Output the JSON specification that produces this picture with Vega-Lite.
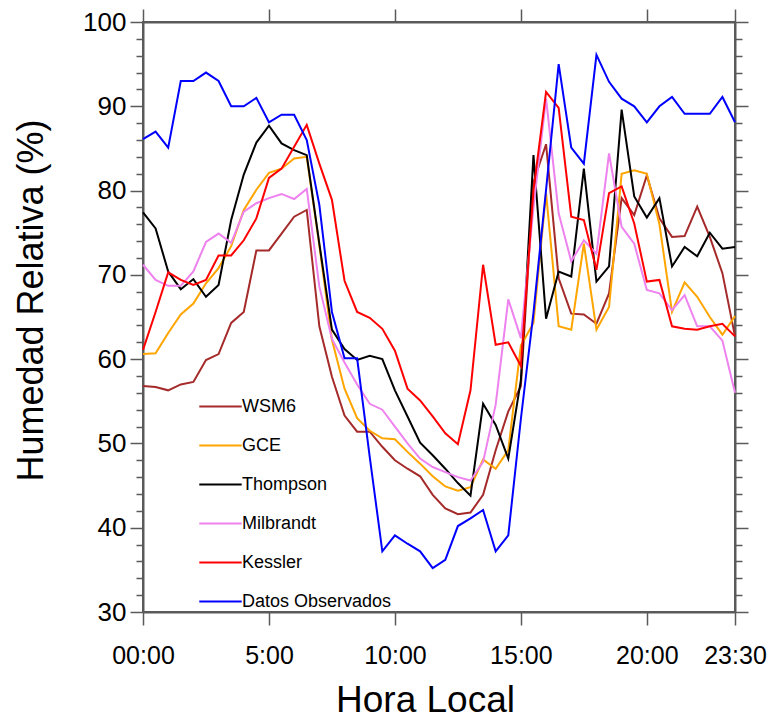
{
  "$schema": "https://vega.github.io/schema/vega-lite/v6.json",
  "width": 592,
  "height": 590,
  "autosize": {"type": "none"},
  "padding": {"left": 143, "top": 22, "right": 35, "bottom": 107},
  "background": "white",
  "config": {
    "view": {"stroke": "#5a5a5a", "strokeWidth": 2},
    "font": "Liberation Sans"
  },
  "data": {
    "values": [
      {"h": 0, "WSM6": 56.8, "GCE": 60.6, "Thompson": 77.4, "Milbrandt": 71.2, "Kessler": 61.1, "Datos Observados": 86.1},
      {"h": 0.5, "WSM6": 56.7, "GCE": 60.7, "Thompson": 75.5, "Milbrandt": 69.4, "Kessler": 65.6, "Datos Observados": 87.0},
      {"h": 1, "WSM6": 56.3, "GCE": 63.1, "Thompson": 70.4, "Milbrandt": 68.7, "Kessler": 70.3, "Datos Observados": 85.1},
      {"h": 1.5, "WSM6": 57.0, "GCE": 65.3, "Thompson": 68.3, "Milbrandt": 68.7, "Kessler": 69.4, "Datos Observados": 93.0},
      {"h": 2, "WSM6": 57.3, "GCE": 66.6, "Thompson": 69.5, "Milbrandt": 70.4, "Kessler": 68.8, "Datos Observados": 93.0},
      {"h": 2.5, "WSM6": 59.9, "GCE": 69.0, "Thompson": 67.4, "Milbrandt": 73.9, "Kessler": 69.4, "Datos Observados": 94.0},
      {"h": 3, "WSM6": 60.6, "GCE": 70.8, "Thompson": 68.8, "Milbrandt": 74.9, "Kessler": 72.3, "Datos Observados": 93.0},
      {"h": 3.5, "WSM6": 64.3, "GCE": 73.4, "Thompson": 76.5, "Milbrandt": 73.8, "Kessler": 72.3, "Datos Observados": 90.0},
      {"h": 4, "WSM6": 65.6, "GCE": 77.7, "Thompson": 81.9, "Milbrandt": 77.5, "Kessler": 74.1, "Datos Observados": 90.0},
      {"h": 4.5, "WSM6": 72.9, "GCE": 80.1, "Thompson": 85.7, "Milbrandt": 78.5, "Kessler": 76.7, "Datos Observados": 91.0},
      {"h": 5, "WSM6": 72.9, "GCE": 82.1, "Thompson": 87.7, "Milbrandt": 79.1, "Kessler": 81.5, "Datos Observados": 88.1},
      {"h": 5.5, "WSM6": 74.9, "GCE": 82.6, "Thompson": 85.6, "Milbrandt": 79.6, "Kessler": 82.6, "Datos Observados": 89.0},
      {"h": 6, "WSM6": 76.9, "GCE": 83.8, "Thompson": 84.8, "Milbrandt": 79.0, "Kessler": 85.2, "Datos Observados": 89.0},
      {"h": 6.5, "WSM6": 77.7, "GCE": 84.0, "Thompson": 84.2, "Milbrandt": 80.2, "Kessler": 87.8, "Datos Observados": 86.0},
      {"h": 7, "WSM6": 63.9, "GCE": 73.5, "Thompson": 73.7, "Milbrandt": 68.6, "Kessler": 83.2, "Datos Observados": 78.3},
      {"h": 7.5, "WSM6": 57.9, "GCE": 62.3, "Thompson": 63.5, "Milbrandt": 62.4, "Kessler": 78.9, "Datos Observados": 65.6},
      {"h": 8, "WSM6": 53.3, "GCE": 56.5, "Thompson": 61.2, "Milbrandt": 59.6, "Kessler": 69.3, "Datos Observados": 60.1},
      {"h": 8.5, "WSM6": 51.4, "GCE": 53.0, "Thompson": 59.9, "Milbrandt": 57.0, "Kessler": 65.6, "Datos Observados": 60.1},
      {"h": 9, "WSM6": 51.4, "GCE": 51.5, "Thompson": 60.4, "Milbrandt": 54.7, "Kessler": 64.9, "Datos Observados": 48.4},
      {"h": 9.5, "WSM6": 49.6, "GCE": 50.6, "Thompson": 60.0, "Milbrandt": 54.0, "Kessler": 63.6, "Datos Observados": 37.2},
      {"h": 10, "WSM6": 48.0, "GCE": 50.5, "Thompson": 56.3, "Milbrandt": 52.0, "Kessler": 61.0, "Datos Observados": 39.1},
      {"h": 10.5, "WSM6": 47.0, "GCE": 49.0, "Thompson": 53.2, "Milbrandt": 50.0, "Kessler": 56.5, "Datos Observados": 38.1},
      {"h": 11, "WSM6": 46.1, "GCE": 47.6, "Thompson": 50.1, "Milbrandt": 48.2, "Kessler": 55.1, "Datos Observados": 37.2},
      {"h": 11.5, "WSM6": 43.9, "GCE": 46.1, "Thompson": 48.6, "Milbrandt": 47.2, "Kessler": 53.2, "Datos Observados": 35.2},
      {"h": 12, "WSM6": 42.3, "GCE": 44.9, "Thompson": 47.0, "Milbrandt": 46.6, "Kessler": 51.2, "Datos Observados": 36.2},
      {"h": 12.5, "WSM6": 41.6, "GCE": 44.4, "Thompson": 45.3, "Milbrandt": 46.0, "Kessler": 49.9, "Datos Observados": 40.2},
      {"h": 13, "WSM6": 41.8, "GCE": 44.8, "Thompson": 43.8, "Milbrandt": 45.6, "Kessler": 56.3, "Datos Observados": 41.1},
      {"h": 13.5, "WSM6": 43.9, "GCE": 48.1, "Thompson": 54.7, "Milbrandt": 47.8, "Kessler": 71.2, "Datos Observados": 42.1},
      {"h": 14, "WSM6": 49.2, "GCE": 47.0, "Thompson": 52.2, "Milbrandt": 54.6, "Kessler": 61.7, "Datos Observados": 37.2},
      {"h": 14.5, "WSM6": 53.8, "GCE": 49.2, "Thompson": 48.2, "Milbrandt": 67.1, "Kessler": 62.0, "Datos Observados": 39.1},
      {"h": 15, "WSM6": 56.8, "GCE": 61.6, "Thompson": 57.5, "Milbrandt": 62.5, "Kessler": 59.2, "Datos Observados": 52.9},
      {"h": 15.5, "WSM6": 81.0, "GCE": 64.3, "Thompson": 84.2, "Milbrandt": 78.0, "Kessler": 80.0, "Datos Observados": 65.5},
      {"h": 16, "WSM6": 85.5, "GCE": 79.7, "Thompson": 64.8, "Milbrandt": 90.9, "Kessler": 91.7, "Datos Observados": 80.1},
      {"h": 16.5, "WSM6": 69.6, "GCE": 63.9, "Thompson": 70.4, "Milbrandt": 77.3, "Kessler": 89.8, "Datos Observados": 95.0},
      {"h": 17, "WSM6": 65.4, "GCE": 63.5, "Thompson": 69.8, "Milbrandt": 71.6, "Kessler": 76.9, "Datos Observados": 85.1},
      {"h": 17.5, "WSM6": 65.3, "GCE": 73.7, "Thompson": 82.6, "Milbrandt": 74.1, "Kessler": 76.5, "Datos Observados": 83.2},
      {"h": 18, "WSM6": 64.2, "GCE": 63.5, "Thompson": 69.2, "Milbrandt": 72.5, "Kessler": 70.6, "Datos Observados": 96.1},
      {"h": 18.5, "WSM6": 67.8, "GCE": 66.2, "Thompson": 71.0, "Milbrandt": 84.4, "Kessler": 79.7, "Datos Observados": 92.9},
      {"h": 19, "WSM6": 79.1, "GCE": 82.0, "Thompson": 89.6, "Milbrandt": 75.7, "Kessler": 80.5, "Datos Observados": 90.9},
      {"h": 19.5, "WSM6": 77.1, "GCE": 82.4, "Thompson": 79.3, "Milbrandt": 73.7, "Kessler": 76.1, "Datos Observados": 90.0},
      {"h": 20, "WSM6": 81.8, "GCE": 82.0, "Thompson": 76.8, "Milbrandt": 68.2, "Kessler": 69.2, "Datos Observados": 88.1},
      {"h": 20.5, "WSM6": 76.7, "GCE": 76.0, "Thompson": 79.1, "Milbrandt": 67.8, "Kessler": 69.4, "Datos Observados": 90.0},
      {"h": 21, "WSM6": 74.5, "GCE": 65.6, "Thompson": 71.0, "Milbrandt": 65.8, "Kessler": 63.9, "Datos Observados": 91.1},
      {"h": 21.5, "WSM6": 74.6, "GCE": 69.1, "Thompson": 73.3, "Milbrandt": 67.6, "Kessler": 63.6, "Datos Observados": 89.1},
      {"h": 22, "WSM6": 78.1, "GCE": 67.4, "Thompson": 72.2, "Milbrandt": 63.9, "Kessler": 63.5, "Datos Observados": 89.1},
      {"h": 22.5, "WSM6": 74.5, "GCE": 65.0, "Thompson": 75.0, "Milbrandt": 63.9, "Kessler": 63.9, "Datos Observados": 89.1},
      {"h": 23, "WSM6": 70.2, "GCE": 62.9, "Thompson": 73.1, "Milbrandt": 62.2, "Kessler": 64.2, "Datos Observados": 91.1},
      {"h": 23.5, "WSM6": 62.7, "GCE": 65.1, "Thompson": 73.3, "Milbrandt": 56.0, "Kessler": 62.7, "Datos Observados": 88.1}
    ]
  },
  "transform": [
    {"fold": ["WSM6", "GCE", "Thompson", "Milbrandt", "Kessler", "Datos Observados"], "as": ["serie", "hr"]}
  ],
  "layer": [
    {
      "mark": {"type": "line", "strokeWidth": 2},
      "encoding": {
        "x": {
          "field": "h", "type": "quantitative",
          "scale": {"domain": [0, 23.5], "nice": false, "zero": false},
          "axis": {
            "orient": "bottom",
            "values": [0, 5, 10, 15, 20, 23.5],
            "labelExpr": "datum.value == 0 ? '00:00' : (datum.value == 23.5 ? '23:30' : format(datum.value, 'd') + ':00')",
            "grid": false,
            "tickSize": 13, "tickColor": "#5a5a5a", "tickWidth": 1.5,
            "domainColor": "#5a5a5a", "domainWidth": 2,
            "labelFontSize": 25, "labelColor": "#000", "labelPadding": 18, "labelFlush": false, "labelOverlap": false,
            "title": "Hora Local", "titleFontSize": 37, "titleFontWeight": "normal", "titleColor": "#000",
            "titleX": 282, "titleY": 88, "titleBaseline": "middle", "titleAnchor": "middle"
          }
        },
        "y": {
          "field": "hr", "type": "quantitative",
          "scale": {"domain": [30, 100], "nice": false, "zero": false},
          "axis": {
            "orient": "left",
            "values": [30, 32, 34, 36, 38, 40, 42, 44, 46, 48, 50, 52, 54, 56, 58, 60, 62, 64, 66, 68, 70, 72, 74, 76, 78, 80, 82, 84, 86, 88, 90, 92, 94, 96, 98, 100],
            "labelExpr": "datum.value % 10 == 0 ? datum.label : ''",
            "grid": false,
            "tickSize": {"condition": {"test": "datum.value % 10 == 0", "value": 13}, "value": 7},
            "tickColor": "#5a5a5a", "tickWidth": 1.5,
            "domainColor": "#5a5a5a", "domainWidth": 2,
            "labelFontSize": 26, "labelColor": "#000", "labelPadding": 4, "labelFlush": false, "labelOverlap": false,
            "title": "Humedad Relativa (%)", "titleFontSize": 36, "titleFontWeight": "normal", "titleColor": "#000",
            "titleX": -112, "titleY": 278, "titleAngle": -90, "titleBaseline": "middle", "titleAnchor": "middle"
          }
        },
        "color": {
          "field": "serie", "type": "nominal",
          "scale": {
            "domain": ["WSM6", "GCE", "Thompson", "Milbrandt", "Kessler", "Datos Observados"],
            "range": ["#A52A2A", "#FFA500", "#000000", "#EE82EE", "#FF0000", "#0000FF"]
          },
          "legend": {
            "orient": "none", "legendX": 55, "legendY": 362,
            "title": null, "symbolType": "stroke", "symbolSize": 1800, "symbolStrokeWidth": 2,
            "labelFontSize": 18, "labelColor": "#000", "labelOffset": -1, "rowPadding": 7,
            "padding": 0, "offset": 0
          }
        }
      }
    },
    {
      "mark": {"type": "point", "opacity": 0},
      "encoding": {
        "x": {
          "field": "h", "type": "quantitative",
          "axis": {
            "orient": "top", "values": [0, 5, 10, 15, 20, 23.5], "labels": false, "title": null, "grid": false,
            "tickSize": 13, "tickColor": "#5a5a5a", "tickWidth": 1.5,
            "domainColor": "#5a5a5a", "domainWidth": 2
          }
        },
        "y": {
          "field": "hr", "type": "quantitative",
          "axis": {
            "orient": "right",
            "values": [30, 32, 34, 36, 38, 40, 42, 44, 46, 48, 50, 52, 54, 56, 58, 60, 62, 64, 66, 68, 70, 72, 74, 76, 78, 80, 82, 84, 86, 88, 90, 92, 94, 96, 98, 100],
            "labels": false, "title": null, "grid": false,
            "tickSize": {"condition": {"test": "datum.value % 10 == 0", "value": 13}, "value": 7},
            "tickColor": "#5a5a5a", "tickWidth": 1.5,
            "domainColor": "#5a5a5a", "domainWidth": 2
          }
        }
      }
    }
  ]
}
